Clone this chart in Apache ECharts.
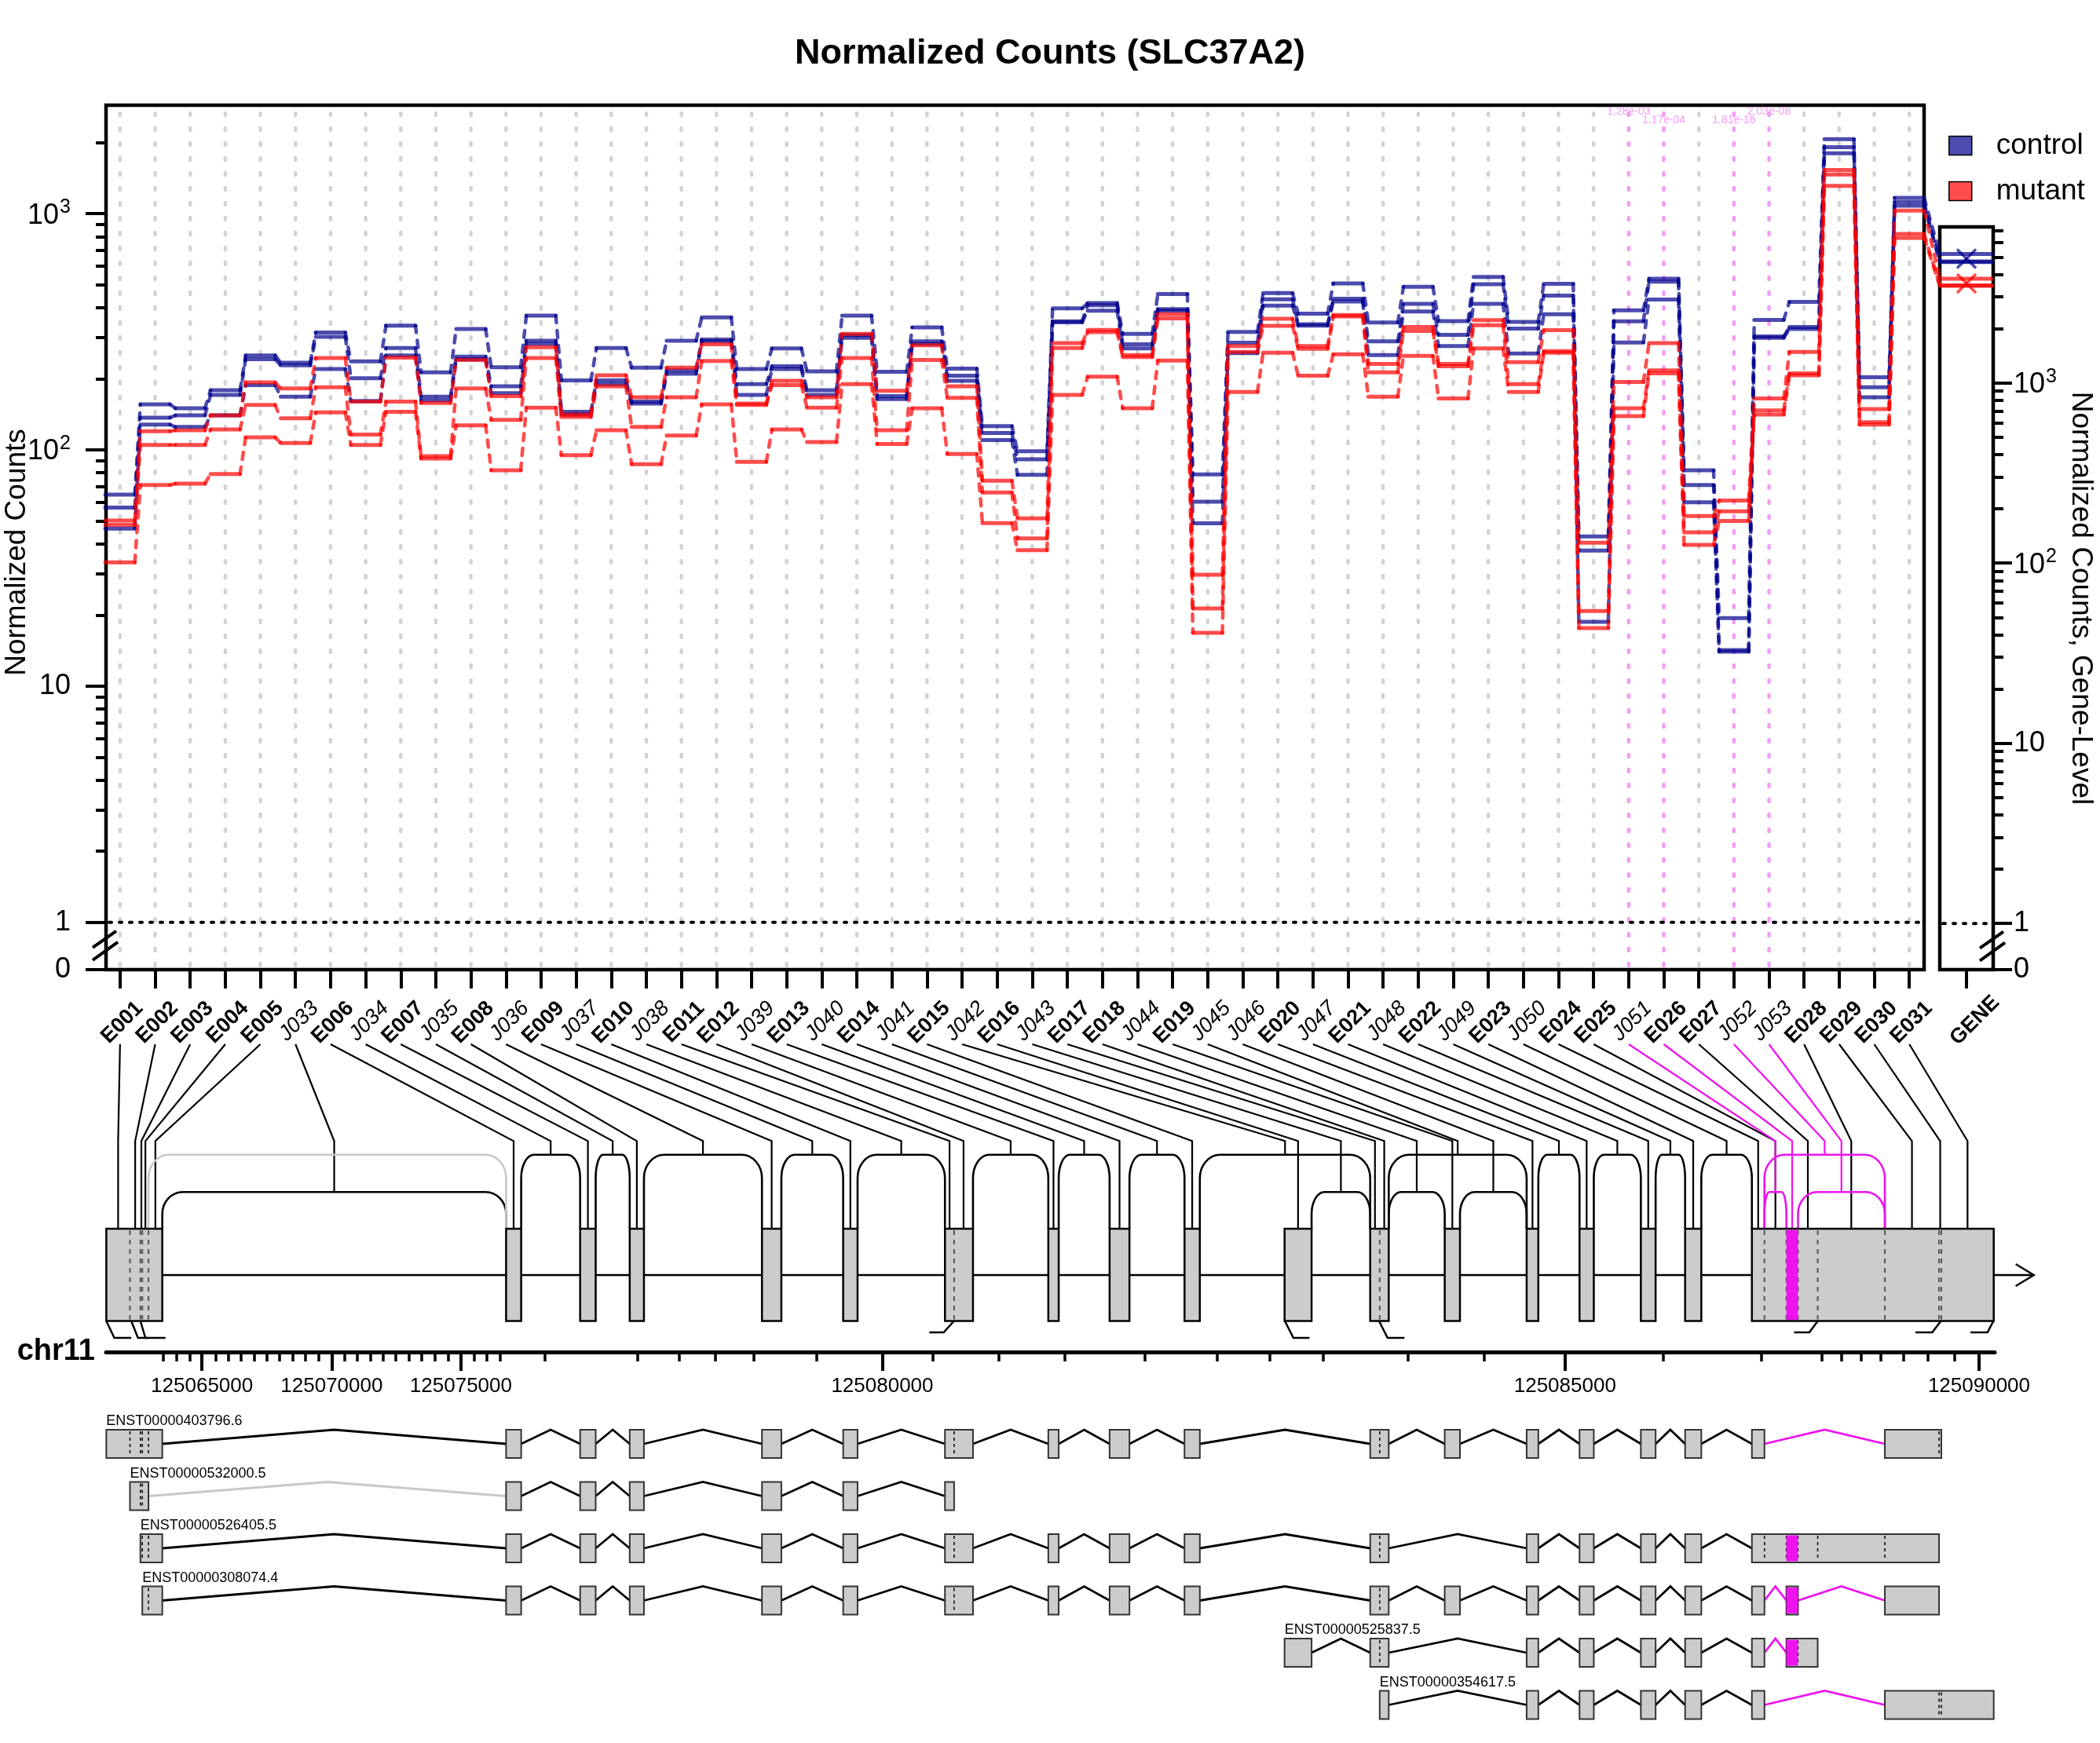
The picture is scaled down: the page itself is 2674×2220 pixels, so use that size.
<!DOCTYPE html>
<html>
<head>
<meta charset="utf-8">
<title>Normalized Counts (SLC37A2)</title>
<script src="https://cdn.jsdelivr.net/npm/echarts@6.0.0/dist/echarts.min.js"></script>
<style>
html, body { margin: 0; padding: 0; background: #fff; }
#chart { width: 2674px; height: 2220px; }
</style>
</head>
<body>
<div id="chart"></div>
<script>
// ---------------- values ----------------
var featureNames = ['E001','E002','E003','E004','E005','J033','E006','J034','E007','J035','E008','J036','E009','J037','E010','J038','E011','E012','J039','E013','J040','E014','J041','E015','J042','E016','J043','E017','E018','J044','E019','J045','J046','E020','J047','E021','J048','E022','J049','E023','J050','E024','E025','J051','E026','E027','J052','J053','E028','E029','E030','E031'];

// normalized counts, three samples per condition
var control1 = [64.7,156,150,179,251,234,314,237,336,213,325,224,370,197,270,223,290,364,220,269,215,370,214,330,221,126,98.6,397,418,310,457,78.7,316,461,377,507,346,490,351,540,348,505,43,390,530,82,19.4,355,423,2065,203,1166];
var control2 = [57,137,140,171,242,228,301,201,270,168,248,186,290,145,197,160,217,293,190,226,179,306,169,288,206,118,91.2,350,410,280,394,60.4,284,434,340,436,288,415,307,503,326,450,37.5,350,515,71,14.2,302,331,1912,184,1120];
var control3 = [46.4,128,125,140,188,168,220,161,251,162,242,174,281,141,190,157,210,288,171,220,171,298,164,281,196,110,78.4,347,388,269,388,48.9,257,408,336,425,252,385,275,415,256,375,18.7,285,433,60,14.0,298,325,1800,167,1080];
var mutant1 = [50.2,120,121,140,193,182,245,160,246,158,240,169,272,141,207,167,223,280,157,196,167,310,178,277,186,74,51.3,283,322,252,375,29.6,275,359,275,372,231,331,231,354,235,321,40.5,194,283,52.5,61,165,260,1530,149,1030];
var mutant2 = [48.2,105,105,122,155,136,184,116,160,94,182,134,245,138,186,125,167,238,155,188,151,245,121,240,166,66,42.2,270,315,247,360,21.3,260,335,268,367,213,319,226,337,190,262,20.8,150,217,44.8,55,147,211,1465,131,820];
var mutant3 = [33.4,71,72,79,113,107,144,105,145,92,127,82,151,95,121,87,115,156,89,122,108,190,106,150,96,49,37.6,171,204,150,239,16.8,176,258,206,254,168,250,165,269,176,258,17.6,139,211,39.6,50,141,207,1311,128,790];

// gene-level counts
var geneControl = [5200, 4720, 4690];
var geneMutant = [3790, 3480, 3460];
var geneMeans = [4890, 3565];

var sigFeatures = ['J051', 'E026', 'J052', 'J053'];
var sigPvalues = ['1.28e-03', '1.17e-04', '1.81e-16', '2.03e-08'];

// gene model, measured on the same horizontal scale as the feature slots
var exonNames = ['E001','E002','E003','E004','E005','E006','E007','E008','E009','E010','E011','E012','E013','E014','E015','E016','E017','E018','E019','E020','E021','E022','E023','E024','E025','E026','E027','E028','E029','E030','E031'];
var exonStart = [-0.392,0.282,0.580,0.634,0.810,11.003,13.114,14.527,18.296,20.611,23.512,23.773,26.458,28.205,30.340,33.192,35.633,35.904,37.757,40.092,41.599,43.347,44.609,46.512,46.870,47.495,47.826,48.388,50.302,51.847,51.912];
var exonEnd = [0.282,0.580,0.634,0.810,1.204,11.433,13.557,14.932,18.849,21.021,23.773,24.311,26.754,28.771,30.777,33.962,35.904,36.161,38.191,40.425,42.006,43.768,45.070,46.870,47.495,47.826,48.388,50.302,51.847,51.912,53.405];

// junctions: '' is a junction that was not tested (grey)
var junctionNames = ['J033','','J034','J035','J036','J037','J038','J039','J040','J041','J042','J043','J044','J045','J046','J047','J048','J049','J050','J051','J052','J053'];
var junctionFrom = ['E005','E004','E006','E007','E008','E009','E010','E012','E013','E014','E015','E016','E018','E018','E019','E020','E021','E022','E023','E024','E024','E026'];
var junctionTo = ['E006','E006','E007','E008','E009','E010','E011','E013','E014','E015','E017','E017','E019','E020','E020','E021','E022','E023','E024','E026','E029','E029'];
var junctionLow = [1,0,0,0,0,0,0,0,0,0,0,1,1,0,1,0,0,0,0,1,0,1];

var transcriptNames = ['ENST00000403796.6','ENST00000532000.5','ENST00000526405.5','ENST00000308074.4','ENST00000525837.5','ENST00000354617.5'];
var transcriptExons = [
  ['E001','E002','E003','E004','E005','E006','E007','E008','E009','E010','E011','E012','E013','E014','E015','E017','E018','E019','E020','E021','E022','E023','E024','E029','E030'],
  ['E002','E003','E004','E006','E007','E008','E009','E010','E011'],
  ['E003','E004','E005','E006','E007','E008','E009','E010','E011','E012','E013','E014','E015','E017','E018','E020','E021','E022','E023','E024','E025','E026','E027','E028','E029'],
  ['E004','E005','E006','E007','E008','E009','E010','E011','E012','E013','E014','E015','E017','E018','E019','E020','E021','E022','E023','E024','E026','E029'],
  ['E016','E017','E018','E020','E021','E022','E023','E024','E026','E027'],
  ['E018','E020','E021','E022','E023','E024','E029','E030','E031']
];

// chr11 axis: every 500 bp, on the compressed gene-model scale
var chrTickPos = [1.222,1.607,1.979,2.335,2.720,3.078,3.450,3.819,4.191,4.549,4.918,5.290,5.662,6.033,6.405,6.761,7.132,7.488,7.860,8.232,8.603,8.975,9.346,9.716,10.087,10.446,10.831,12.115,14.757,15.930,16.975,18.061,19.850,21.726,23.163,25.050,26.937,29.210,31.267,32.765,34.289,36.709,38.885,41.186,43.989,46.772,48.511,49.069,49.624,50.179,50.833,51.533,52.283,52.986];
var chrMajorPos = [2.335, 6.033, 9.716, 21.726, 41.186, 52.986];
var chrMajorLabels = ['125065000','125070000','125075000','125080000','125085000','125090000'];

// small marks tying exon edges to the genomic axis
var markTop = [-0.392, 0.320, 0.580, 23.767, 33.201, 35.885, 48.391, 51.898, 53.397];
var markBend = [-0.164, 0.510, 0.723, 23.478, 33.443, 36.127, 48.149, 51.654, 53.227];
var markEnd = [0.320, 0.792, 1.294, 23.066, 33.902, 36.610, 47.713, 51.173, 52.743];
var markLow = [1, 1, 1, 0, 1, 1, 0, 0, 0];

// ---------------- layout and style ----------------
var FONT = 'Liberation Sans, Arial, sans-serif';
var CTRL = 'rgba(0,0,139,0.7)', MUT = 'rgba(255,0,0,0.7)';
var MAGENTA = '#EE12EE', PINK = '#F59CF5', GREY = '#D3D3D3', EXON_FILL = '#CCCCCC';

var PLOT = {left: 135, top: 134, width: 2315, height: 1101};
var XMIN = -0.4, XMAX = 51.42, HALF = 0.42;
var YMIN = -0.2, YMAX = 3.459;
var GENE = {left: 2470, top: 289, width: 68, height: 946};
var GYMIN = -0.256, GYMAX = 3.866;
var PX = PLOT.width / (XMAX - XMIN);
var DIAG = {left: 135, top: 1240, width: 2460, height: 960};
var CHR = {left: 135, top: 1721, width: 2405, height: 1};
// vertical levels of the lower panel (units of 10 px)
var LV = {labelFoot: 9.0, bend: 21.33, arcHigh: 23.07, arcLow: 27.82, exonTop: 32.5, exonMid: 38.4, exonBot: 44.25,
          markHigh: 45.7, markLow: 46.4, row0: 59.9, rowStep: 6.65, rowHalf: 1.8, rowLabel: 2.85};
var P_ROW = [0, 1, 1, 0], P_Y = [3.433, 3.397];

function lg(v) { return Math.log(v) / Math.LN10; }
function isSig(n) { return sigFeatures.indexOf(n) >= 0; }
function exonAt(n) { return exonNames.indexOf(n); }

function spanOf(n) {
  var k = exonAt(n);
  if (k >= 0) return {a: exonStart[k], b: exonEnd[k], kind: 'exon'};
  var j = junctionNames.indexOf(n);
  return {a: exonEnd[exonAt(junctionFrom[j])], b: exonStart[exonAt(junctionTo[j])], kind: junctionLow[j] ? 'low' : 'high'};
}

function blocksOf(names) {
  var blocks = [];
  names.forEach(function (n) {
    var k = exonAt(n), last = blocks[blocks.length - 1];
    if (last && Math.abs(last.end - exonStart[k]) < 1e-9) {
      last.end = exonEnd[k];
      last.parts.push(n);
    } else {
      blocks.push({start: exonStart[k], end: exonEnd[k], parts: [n]});
    }
  });
  return blocks;
}

function intronColour(from, to) {
  for (var j = 0; j < junctionNames.length; j++) {
    if (junctionFrom[j] === from && junctionTo[j] === to) {
      if (!junctionNames[j]) return '#C8C8C8';
      return isSig(junctionNames[j]) ? MAGENTA : '#000';
    }
  }
  return '#000';
}

var geneBlocks = blocksOf(exonNames);
var transcriptBlocks = transcriptExons.map(blocksOf);

function minorTicks(max) {
  var out = [];
  for (var p = 0; p < 4; p++) {
    for (var k = 2; k < 10; k++) {
      if (p + lg(k) < max) out.push(p + lg(k));
    }
  }
  return out;
}

function logLabel(v) {
  if (v < -0.01) return '{n|0}';
  var p = Math.round(v);
  if (p === 0) return '{n|1}';
  if (p === 1) return '{n|10}';
  return '{n|10}{s|' + p + '}';
}
var logRich = {
  n: {fontSize: 36, fontFamily: FONT, color: '#000', verticalAlign: 'bottom'},
  s: {fontSize: 25, fontFamily: FONT, color: '#000', verticalAlign: 'bottom', padding: [0, 0, 16, 1]}
};
var featRich = {
  e: {fontSize: 27, fontWeight: 'bold', fontFamily: FONT, color: '#000'},
  j: {fontSize: 27, fontStyle: 'italic', fontFamily: FONT, color: '#000'}
};

// ---------------- series ----------------
var series = [];

// dashed guide for every feature slot
series.push({
  type: 'custom', coordinateSystem: 'cartesian2d', xAxisIndex: 0, yAxisIndex: 0, silent: true, z: 1,
  data: featureNames.map(function (n, i) { return [i, 0, isSig(n) ? 1 : 0]; }),
  encode: {x: 0, y: 1},
  renderItem: function (params, api) {
    var a = api.coord([api.value(0), YMAX]), b = api.coord([api.value(0), YMIN]);
    return {type: 'line', shape: {x1: a[0], y1: a[1] + 10, x2: b[0], y2: b[1] - 4},
      style: {stroke: api.value(2) ? PINK : GREY, lineWidth: 4.5, lineDash: [3, 16], lineCap: 'round'}};
  }
});

// p-values above significant features
series.push({
  type: 'custom', coordinateSystem: 'cartesian2d', xAxisIndex: 0, yAxisIndex: 0, silent: true, z: 2, clip: false,
  data: sigFeatures.map(function (n, k) { return [featureNames.indexOf(n), P_Y[P_ROW[k]], k]; }),
  encode: {x: 0, y: 1},
  renderItem: function (params, api) {
    var p = api.coord([api.value(0), api.value(1)]);
    return {type: 'text', style: {text: sigPvalues[api.value(2)], x: p[0], y: p[1], align: 'center', verticalAlign: 'middle',
      fontSize: 14, fontFamily: FONT, fill: PINK}};
  }
});

function dottedOne(xi, yi, x0, x1) {
  return {
    type: 'custom', coordinateSystem: 'cartesian2d', xAxisIndex: xi, yAxisIndex: yi, silent: true, z: 2,
    data: [[x0, 0]], encode: {x: 0, y: 1},
    renderItem: function (params, api) {
      var a = api.coord([x0, 0]), b = api.coord([x1, 0]);
      return {type: 'line', shape: {x1: a[0] + 4, y1: a[1], x2: b[0] - 2, y2: b[1]},
        style: {stroke: '#000', lineWidth: 4, lineDash: [3, 10], lineCap: 'round'}};
    }
  };
}
series.push(dottedOne(0, 0, XMIN, XMAX));
series.push(dottedOne(1, 2, 0, 1));

function breakMark(xi, yi, x, y) {
  return {
    type: 'custom', coordinateSystem: 'cartesian2d', xAxisIndex: xi, yAxisIndex: yi, silent: true, z: 6, clip: false,
    data: [[x, y]], encode: {x: 0, y: 1},
    renderItem: function (params, api) {
      var c = api.coord([x, y]);
      var st = {stroke: '#000', lineWidth: 4};
      return {type: 'group', children: [
        {type: 'line', shape: {x1: c[0] - 17, y1: c[1] + 2, x2: c[0] + 13, y2: c[1] - 19}, style: st},
        {type: 'line', shape: {x1: c[0] - 17, y1: c[1] + 18, x2: c[0] + 15, y2: c[1] - 5}, style: st}
      ]};
    }
  };
}
series.push(breakMark(0, 0, XMIN, YMIN / 2));
series.push(breakMark(1, 2, 1, GYMIN / 2));

function stepSeries(name, colour, vals) {
  return {
    type: 'custom', name: name, coordinateSystem: 'cartesian2d', xAxisIndex: 0, yAxisIndex: 0, silent: true, z: 3,
    itemStyle: {color: colour},
    data: vals.map(function (v, i) {
      var last = i === vals.length - 1;
      return [i, lg(v), last ? lg(v) : lg(vals[i + 1]), last ? 0 : 1];
    }),
    encode: {x: 0, y: 1},
    renderItem: function (params, api) {
      var i = api.value(0);
      var a = api.coord([i - HALF, api.value(1)]), b = api.coord([i + HALF, api.value(1)]);
      var kids = [{type: 'line', shape: {x1: a[0], y1: a[1], x2: b[0], y2: b[1]},
        style: {stroke: colour, lineWidth: 5, lineCap: 'round'}}];
      if (api.value(3)) {
        var c = api.coord([i + 1 - HALF, api.value(2)]);
        kids.push({type: 'line', shape: {x1: b[0], y1: b[1], x2: c[0], y2: c[1]},
          style: {stroke: colour, lineWidth: 4.5, lineDash: [9, 10], lineCap: 'round'}});
      }
      return {type: 'group', children: kids};
    }
  };
}
[control1, control2, control3].forEach(function (v) { series.push(stepSeries('control', CTRL, v)); });
[mutant1, mutant2, mutant3].forEach(function (v) { series.push(stepSeries('mutant', MUT, v)); });

function geneSeries(name, colour, vals) {
  return {
    type: 'custom', name: name, coordinateSystem: 'cartesian2d', xAxisIndex: 1, yAxisIndex: 2, silent: true, z: 3,
    itemStyle: {color: colour},
    data: vals.map(function (v) { return [0, lg(v)]; }), encode: {x: 0, y: 1},
    renderItem: function (params, api) {
      var a = api.coord([0, api.value(1)]), b = api.coord([1, api.value(1)]);
      return {type: 'line', shape: {x1: a[0], y1: a[1], x2: b[0], y2: b[1]}, style: {stroke: colour, lineWidth: 5}};
    }
  };
}
series.push(geneSeries('control', CTRL, geneControl));
series.push(geneSeries('mutant', MUT, geneMutant));
series.push({
  type: 'custom', coordinateSystem: 'cartesian2d', xAxisIndex: 1, yAxisIndex: 2, silent: true, z: 4,
  data: geneMeans.map(function (v, k) { return [0.5, lg(v), k]; }), encode: {x: 0, y: 1},
  renderItem: function (params, api) {
    var c = api.coord([0.5, api.value(1)]), col = api.value(2) ? MUT : CTRL, r = 12;
    return {type: 'group', children: [
      {type: 'line', shape: {x1: c[0] - r, y1: c[1] - r, x2: c[0] + r, y2: c[1] + r}, style: {stroke: col, lineWidth: 3.5}},
      {type: 'line', shape: {x1: c[0] - r, y1: c[1] + r, x2: c[0] + r, y2: c[1] - r}, style: {stroke: col, lineWidth: 3.5}}
    ]};
  }
});

// ---------- lower panel: gene model ----------
function diag(o) {
  o.type = 'custom'; o.coordinateSystem = 'cartesian2d'; o.xAxisIndex = 2; o.yAxisIndex = 4;
  o.silent = true; o.clip = false; o.encode = {x: 0, y: 1};
  return o;
}

// label-to-feature connectors
series.push(diag({
  z: 2,
  data: featureNames.map(function (n, i) {
    var s = spanOf(n);
    var target = s.kind === 'exon' ? LV.exonTop : (s.kind === 'low' ? LV.arcLow : LV.arcHigh);
    return [i, LV.labelFoot, (s.a + s.b) / 2, target, isSig(n) ? 1 : 0];
  }),
  renderItem: function (params, api) {
    var a = api.coord([api.value(0), LV.labelFoot]);
    var b = api.coord([api.value(2), LV.bend]);
    var c = api.coord([api.value(2), api.value(3)]);
    return {type: 'polyline', shape: {points: [a, b, c]},
      style: {stroke: api.value(4) ? MAGENTA : '#000', lineWidth: 2.2, fill: 'none'}};
  }
}));

// junction arcs
series.push(diag({
  z: 3,
  data: junctionNames.map(function (n, j) {
    var col = !n ? 2 : (isSig(n) ? 1 : 0);
    return [exonEnd[exonAt(junctionFrom[j])], LV.exonTop, exonStart[exonAt(junctionTo[j])], junctionLow[j], col];
  }),
  renderItem: function (params, api) {
    var p1 = api.coord([api.value(0), LV.exonTop]), p2 = api.coord([api.value(2), LV.exonTop]);
    var top = api.coord([api.value(0), api.value(3) ? LV.arcLow : LV.arcHigh])[1];
    var xa = p1[0], xb = p2[0], yb = p1[1];
    var rx = Math.min((xb - xa) * 0.22, 26), ry = Math.min((yb - top) * 0.6, 30), k = 0.448;
    var d = 'M' + xa + ' ' + yb + ' L' + xa + ' ' + (top + ry) +
      ' C' + xa + ' ' + (top + ry * k) + ' ' + (xa + rx * k) + ' ' + top + ' ' + (xa + rx) + ' ' + top +
      ' L' + (xb - rx) + ' ' + top +
      ' C' + (xb - rx * k) + ' ' + top + ' ' + xb + ' ' + (top + ry * k) + ' ' + xb + ' ' + (top + ry) +
      ' L' + xb + ' ' + yb;
    var col = ['#000', MAGENTA, '#C8C8C8'][api.value(4)];
    return {type: 'path', shape: {pathData: d}, style: {stroke: col, lineWidth: 2.6, fill: 'none'}};
  }
}));

// backbone and strand arrow
series.push(diag({
  z: 3,
  data: [[geneBlocks[0].start, LV.exonMid, geneBlocks[geneBlocks.length - 1].end]],
  renderItem: function (params, api) {
    var a = api.coord([api.value(0), LV.exonMid]), b = api.coord([api.value(2), LV.exonMid]);
    var tip = b[0] + 51;
    return {type: 'group', children: [
      {type: 'line', shape: {x1: a[0], y1: a[1], x2: tip, y2: b[1]}, style: {stroke: '#000', lineWidth: 2.5}},
      {type: 'polyline', shape: {points: [[tip - 23, b[1] - 14], [tip, b[1]], [tip - 23, b[1] + 14]]},
        style: {stroke: '#000', lineWidth: 2.5, fill: 'none'}}
    ]};
  }
}));

function blockShapes(api, blk, yTop, yBot, opts) {
  var p0 = api.coord([blk.start, yTop]), p1 = api.coord([blk.end, yBot]);
  var kids = [{type: 'rect', shape: {x: p0[0], y: p0[1], width: p1[0] - p0[0], height: p1[1] - p0[1]},
    style: {fill: EXON_FILL, stroke: opts.stroke, lineWidth: opts.lw}}];
  blk.parts.forEach(function (n, m) {
    if (m === 0) return;
    var x = api.coord([exonStart[exonAt(n)], yTop])[0];
    kids.push({type: 'line', shape: {x1: x, y1: p0[1] + 2, x2: x, y2: p1[1] - 2},
      style: {stroke: opts.dot, lineWidth: opts.dotW, lineDash: opts.dash}});
  });
  blk.parts.forEach(function (n) {
    if (!isSig(n)) return;
    var k = exonAt(n);
    var a = api.coord([exonStart[k], yTop]), b = api.coord([exonEnd[k], yBot]);
    kids.push({type: 'rect', shape: {x: a[0], y: a[1] + 1.5, width: b[0] - a[0], height: b[1] - a[1] - 3},
      style: {fill: MAGENTA}});
  });
  return kids;
}

series.push(diag({
  z: 4,
  data: geneBlocks.map(function (b) { return [b.start, LV.exonTop, b.end]; }),
  renderItem: function (params, api) {
    return {type: 'group', children: blockShapes(api, geneBlocks[params.dataIndex], LV.exonTop, LV.exonBot,
      {stroke: '#000', lw: 2.5, dot: '#555', dotW: 2, dash: [6, 6]})};
  }
}));

// exon edge marks under the model
series.push(diag({
  z: 3,
  data: markTop.map(function (t, k) { return [t, LV.exonBot, markBend[k], markEnd[k], markLow[k]]; }),
  renderItem: function (params, api) {
    var lvl = api.value(4) ? LV.markLow : LV.markHigh;
    return {type: 'polyline', shape: {points: [api.coord([api.value(0), LV.exonBot]), api.coord([api.value(2), lvl]), api.coord([api.value(3), lvl])]},
      style: {stroke: '#000', lineWidth: 2.5, fill: 'none'}};
  }
}));

// transcripts
series.push(diag({
  z: 4,
  data: transcriptNames.map(function (n, r) { return [transcriptBlocks[r][0].start, LV.row0 + r * LV.rowStep]; }),
  renderItem: function (params, api) {
    var r = params.dataIndex, blocks = transcriptBlocks[r];
    var yc = api.value(1), yt = yc - LV.rowHalf, yb = yc + LV.rowHalf;
    var kids = [];
    for (var b = 0; b < blocks.length - 1; b++) {
      var from = blocks[b].parts[blocks[b].parts.length - 1], to = blocks[b + 1].parts[0];
      var xa = blocks[b].end, xb = blocks[b + 1].start;
      kids.push({type: 'polyline', shape: {points: [api.coord([xa, yc]), api.coord([(xa + xb) / 2, yt]), api.coord([xb, yc])]},
        style: {stroke: intronColour(from, to), lineWidth: 2.8, fill: 'none'}});
    }
    blocks.forEach(function (blk) {
      kids = kids.concat(blockShapes(api, blk, yt, yb, {stroke: '#333', lw: 2, dot: '#000', dotW: 1.5, dash: [4, 4]}));
    });
    var lp = api.coord([blocks[0].start, yc - LV.rowLabel]);
    kids.push({type: 'text', style: {text: transcriptNames[r], x: lp[0], y: lp[1], align: 'left', verticalAlign: 'middle',
      fontSize: 18, fontFamily: FONT, fill: '#000'}});
    return {type: 'group', children: kids};
  }
}));

// ---------------- options ----------------
var idx = featureNames.map(function (n, i) { return i; });
function featureLabel(v) {
  var n = featureNames[Math.round(v)];
  return n.charAt(0) === 'E' ? '{e|' + n + '}' : '{j|' + n + '}';
}

var option = {
  animation: false,
  backgroundColor: '#fff',
  title: {text: 'Normalized Counts (SLC37A2)', left: 'center', top: 41,
    textStyle: {fontSize: 45, fontWeight: 'bold', fontFamily: FONT, color: '#000'}},
  legend: {data: ['control', 'mutant'], orient: 'vertical', left: 2481, top: 167, padding: 0,
    itemWidth: 29, itemHeight: 24, itemGap: 21, icon: 'rect', selectedMode: false,
    itemStyle: {borderColor: '#000', borderWidth: 1.5},
    textStyle: {fontSize: 37, fontFamily: FONT, color: '#000', padding: [0, 0, 0, 26]}},
  grid: [
    {left: PLOT.left, top: PLOT.top, width: PLOT.width, height: PLOT.height, show: true, borderColor: '#000', borderWidth: 4.5,
      backgroundColor: 'transparent', containLabel: false, outerBoundsMode: 'none'},
    {left: GENE.left, top: GENE.top, width: GENE.width, height: GENE.height, show: true, borderColor: '#000', borderWidth: 4.5,
      backgroundColor: 'transparent', containLabel: false, outerBoundsMode: 'none'},
    {left: DIAG.left, top: DIAG.top, width: DIAG.width, height: DIAG.height, show: false, containLabel: false, outerBoundsMode: 'none'},
    {left: CHR.left, top: CHR.top, width: CHR.width, height: CHR.height, show: false, containLabel: false, outerBoundsMode: 'none'}
  ],
  xAxis: [
    {type: 'value', gridIndex: 0, min: XMIN, max: XMAX, position: 'bottom',
      axisLine: {show: false, onZero: false}, splitLine: {show: false},
      axisTick: {show: true, inside: false, customValues: idx, length: 24, lineStyle: {color: '#000', width: 4}},
      axisLabel: {show: true, customValues: idx, rotate: 45, margin: 20, verticalAlign: 'top', padding: [22, 0, 0, 0],
        formatter: featureLabel, rich: featRich}},
    {type: 'value', gridIndex: 1, min: 0, max: 1, position: 'bottom',
      axisLine: {show: false, onZero: false}, splitLine: {show: false},
      axisTick: {show: true, inside: false, customValues: [0.5], length: 24, lineStyle: {color: '#000', width: 4}},
      axisLabel: {show: true, customValues: [0.5], rotate: 45, margin: 0, verticalAlign: 'top', padding: [40, 0, 0, 0],
        formatter: function () { return '{e|GENE}'; }, rich: featRich}},
    {type: 'value', gridIndex: 2, min: XMIN, max: XMIN + DIAG.width / PX, show: false},
    {type: 'value', gridIndex: 3, min: XMIN, max: XMIN + CHR.width / PX, position: 'bottom', offset: 0,
      axisLine: {show: true, onZero: false, lineStyle: {color: '#000', width: 5}}, splitLine: {show: false},
      axisTick: {show: true, customValues: chrTickPos, length: 12, lineStyle: {color: '#000', width: 3.5}},
      axisLabel: {show: false},
      name: 'chr11', nameLocation: 'start', nameGap: 14, nameMoveOverlap: false,
      nameTextStyle: {fontSize: 38, fontWeight: 'bold', fontFamily: FONT, color: '#000', align: 'right', verticalAlign: 'middle'}},
    {type: 'value', gridIndex: 3, min: XMIN, max: XMIN + CHR.width / PX, position: 'bottom', offset: 0,
      axisLine: {show: false, onZero: false}, splitLine: {show: false},
      axisTick: {show: true, customValues: chrMajorPos, length: 24, lineStyle: {color: '#000', width: 4}},
      axisLabel: {show: true, customValues: chrMajorPos, margin: 31,
        formatter: function (v) {
          var best = 0;
          chrMajorPos.forEach(function (p, k) { if (Math.abs(p - v) < Math.abs(chrMajorPos[best] - v)) best = k; });
          return chrMajorLabels[best];
        },
        fontSize: 26, fontFamily: FONT, color: '#000'}}
  ],
  yAxis: [
    {type: 'value', gridIndex: 0, min: YMIN, max: YMAX, position: 'left',
      axisLine: {show: false, onZero: false}, splitLine: {show: false},
      axisTick: {show: true, customValues: [YMIN, 0, 1, 2, 3], length: 26, lineStyle: {color: '#000', width: 4}},
      axisLabel: {show: true, customValues: [YMIN, 0, 1, 2, 3], margin: 45, formatter: logLabel, rich: logRich},
      name: 'Normalized Counts', nameLocation: 'middle', nameGap: 95, nameRotate: 90, nameMoveOverlap: false,
      nameTextStyle: {fontSize: 37, fontFamily: FONT, color: '#000', padding: [0, 38, 0, 0]}},
    {type: 'value', gridIndex: 0, min: YMIN, max: YMAX, position: 'left', offset: 0,
      axisLine: {show: false, onZero: false}, splitLine: {show: false}, axisLabel: {show: false},
      axisTick: {show: true, customValues: minorTicks(YMAX), length: 13, lineStyle: {color: '#000', width: 4}}},
    {type: 'value', gridIndex: 1, min: GYMIN, max: GYMAX, position: 'right',
      axisLine: {show: false, onZero: false}, splitLine: {show: false},
      axisTick: {show: true, customValues: [GYMIN, 0, 1, 2, 3], length: 24, lineStyle: {color: '#000', width: 4}},
      axisLabel: {show: true, customValues: [GYMIN, 0, 1, 2, 3], margin: 26, formatter: logLabel, rich: logRich},
      name: 'Normalized Counts, Gene-Level', nameLocation: 'middle', nameGap: 93, nameRotate: -90, nameMoveOverlap: false,
      nameTextStyle: {fontSize: 37, fontFamily: FONT, color: '#000'}},
    {type: 'value', gridIndex: 1, min: GYMIN, max: GYMAX, position: 'right', offset: 0,
      axisLine: {show: false, onZero: false}, splitLine: {show: false}, axisLabel: {show: false},
      axisTick: {show: true, customValues: minorTicks(GYMAX), length: 13, lineStyle: {color: '#000', width: 4}}},
    {type: 'value', gridIndex: 2, min: 0, max: DIAG.height / 10, inverse: true, show: false},
    {type: 'value', gridIndex: 3, min: 0, max: 1, show: false}
  ],
  series: series
};

var chart = echarts.init(document.getElementById('chart'));
chart.setOption(option);

// dashed links from the last feature slot into the gene-level panel
var links = [];
[[[control1[51], control2[51], control3[51]], geneControl, CTRL],
 [[mutant1[51], mutant2[51], mutant3[51]], geneMutant, MUT]].forEach(function (c) {
  for (var s = 0; s < 3; s++) {
    var p = chart.convertToPixel({xAxisIndex: 0, yAxisIndex: 0}, [XMAX, lg(c[0][s])]);
    var q = chart.convertToPixel({xAxisIndex: 1, yAxisIndex: 2}, [0, lg(c[1][s])]);
    links.push({type: 'line', silent: true, z: 5, shape: {x1: p[0], y1: p[1], x2: q[0], y2: q[1]},
      style: {stroke: c[2], lineWidth: 4.5, lineDash: [9, 10], lineCap: 'round'}});
  }
});
chart.setOption({graphic: {elements: links}});
</script>
</body>
</html>
